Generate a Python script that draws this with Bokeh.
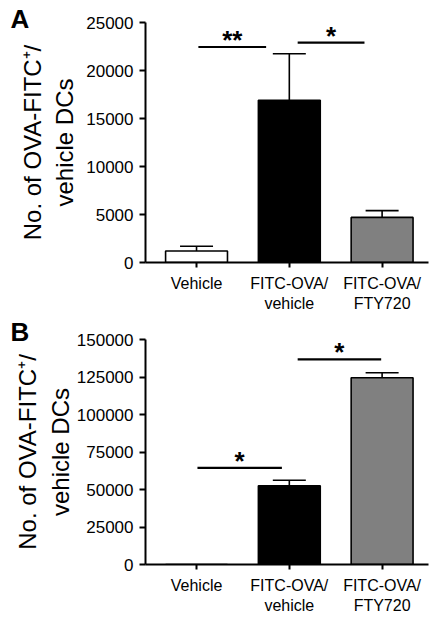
from bokeh.plotting import figure
from bokeh.models import (ColumnDataSource, Range1d, FixedTicker, NumeralTickFormatter,
                          Whisker, TeeHead)
from bokeh.layouts import column
from bokeh.embed import file_html
from bokeh.resources import INLINE
from bokeh.core.properties import value

# ---- data ----
categories = ["Vehicle", "FITC-OVA/\nvehicle", "FITC-OVA/\nFTY720"]
cat_pos = [1, 2, 3]
bar_colors = ["#ffffff", "#000000", "#808080"]

a_means = [1200, 16900, 4700]
a_errors = [500, 4850, 700]
a_ticks = [0, 5000, 10000, 15000, 20000, 25000]
a_sig_x0 = [1.02, 2.09]
a_sig_x1 = [1.75, 2.81]
a_sig_y = [22450, 22900]
a_sig_labels = ["**", "*"]

b_means = [0, 52500, 124500]
b_errors = [0, 3700, 3300]
b_ticks = [0, 25000, 50000, 75000, 100000, 125000, 150000]
b_sig_x0 = [1.01, 2.09]
b_sig_x1 = [1.92, 2.99]
b_sig_y = [64400, 136700]
b_sig_labels = ["*", "*"]

FONT = "Liberation Sans"


def panel(letter, letter_standoff, means, errors, ticks, sx0, sx1, sy, slabels, ymax,
          height, top, bottom, label_standoff):
    p = figure(width=436, height=height, output_backend="svg", toolbar_location=None,
               x_range=Range1d(0.45, 3.5), y_range=Range1d(0, ymax),
               min_border_left=145, min_border_right=8,
               min_border_top=top, min_border_bottom=bottom)
    p.outline_line_color = None
    p.grid.visible = False
    p.background_fill_color = "white"

    # panel letter as the title
    p.title.text = letter
    p.title.align = "left"
    p.title.offset = -135
    p.title.vertical_align = "top"
    p.title.standoff = letter_standoff
    p.title.text_font = FONT
    p.title.text_font_style = "bold"
    p.title.text_font_size = "26px"
    p.title.text_color = "black"

    src = ColumnDataSource(dict(x=cat_pos, top=means, color=bar_colors))
    p.vbar(x="x", top="top", width=0.667, bottom=0, source=src,
           fill_color="color", line_color="black", line_width=1.6)

    idx = [i for i, e in enumerate(errors) if e > 0 and means[i] > 0]
    wsrc = ColumnDataSource(dict(x=[cat_pos[i] for i in idx],
                                 lower=[means[i] for i in idx],
                                 upper=[means[i] + errors[i] for i in idx]))
    w = Whisker(base="x", lower="lower", upper="upper", source=wsrc,
                line_color="black", line_width=1.6,
                upper_head=TeeHead(size=33, line_color="black", line_width=1.6),
                lower_head=None)
    p.add_layout(w)

    p.segment(x0=sx0, x1=sx1, y0=sy, y1=sy, line_color="black", line_width=2.2)
    p.text(x=[(a + b) / 2 for a, b in zip(sx0, sx1)], y=sy, text=slabels,
           text_font=value(FONT), text_font_style="bold", text_font_size="26px",
           text_align="center", text_baseline="alphabetic", y_offset=-7,
           text_color="black")

    # axes
    p.xaxis.ticker = FixedTicker(ticks=cat_pos)
    p.xaxis.major_label_overrides = {c: l for c, l in zip(cat_pos, categories)}
    p.xaxis.minor_tick_line_color = None
    p.xaxis.major_tick_in = 0
    p.xaxis.major_tick_out = 5
    p.xaxis.major_label_standoff = 7
    p.yaxis.ticker = FixedTicker(ticks=ticks)
    p.yaxis.formatter = NumeralTickFormatter(format="0")
    p.yaxis.minor_tick_line_color = None
    p.yaxis.major_tick_in = 0
    p.yaxis.major_tick_out = 6
    p.yaxis.major_label_standoff = 6
    for ax in (p.xaxis, p.yaxis):
        ax.axis_line_width = 2
        ax.axis_line_color = "black"
        ax.major_tick_line_width = 2
        ax.major_tick_line_color = "black"
        ax.major_label_text_font = FONT
        ax.major_label_text_color = "black"
    p.xaxis.major_label_text_font_size = "16px"
    p.yaxis.major_label_text_font_size = "17px"
    p.yaxis.axis_label = "No. of OVA-FITC\u207a/\nvehicle DCs"
    p.yaxis.axis_label_text_font = FONT
    p.yaxis.axis_label_text_font_style = "normal"
    p.yaxis.axis_label_text_font_size = "24px"
    p.yaxis.axis_label_text_color = "black"
    p.yaxis.axis_label_standoff = label_standoff
    return p


pa = panel("A", -27, a_means, a_errors, a_ticks, a_sig_x0, a_sig_x1, a_sig_y,
           a_sig_labels, 25000, 315, 22, 53, 5)
pb = panel("B", -18, b_means, b_errors, b_ticks, b_sig_x0, b_sig_x1, b_sig_y,
           b_sig_labels, 150000, 301, 24, 52, 0)

layout = column(pa, pb, spacing=0)
open("out.html", "w").write(file_html(layout, INLINE))
